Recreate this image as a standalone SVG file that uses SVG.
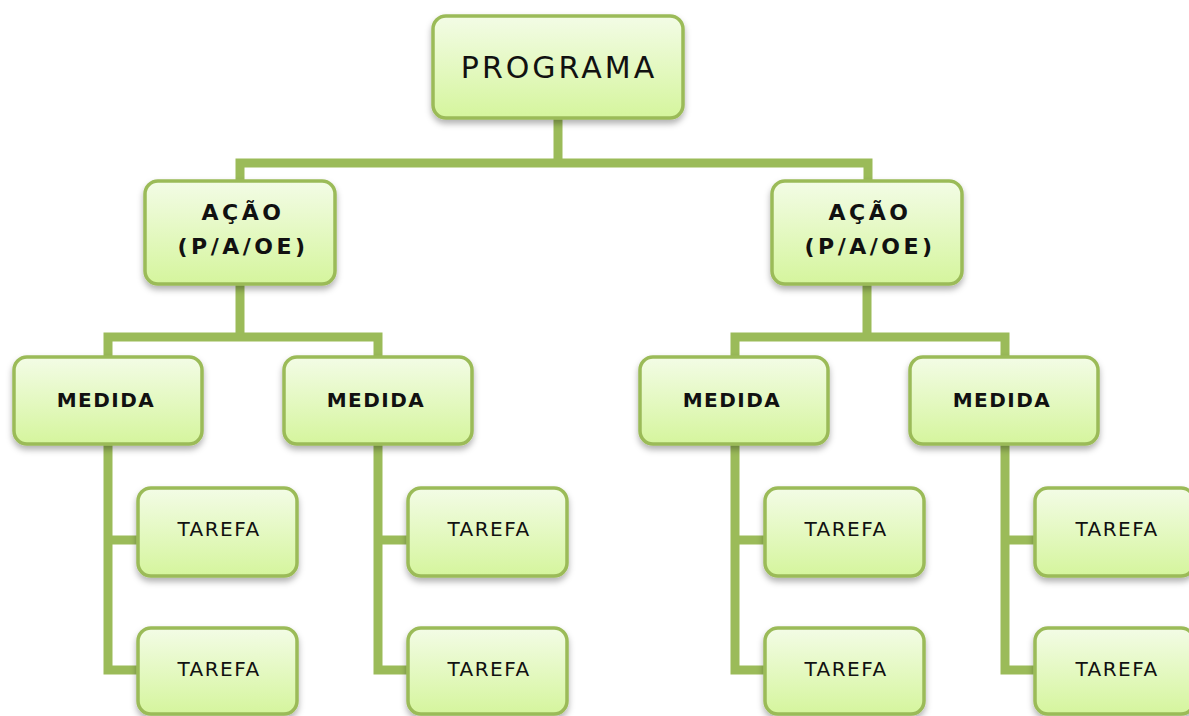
<svg xmlns="http://www.w3.org/2000/svg" width="1189" height="716" viewBox="0 0 1189 716">
<defs>
<linearGradient id="g" x1="0" y1="0" x2="0" y2="1">
<stop offset="0" stop-color="#f3fce6"/>
<stop offset="1" stop-color="#d5f59d"/>
</linearGradient>
<filter id="sh" x="-10%" y="-10%" width="120%" height="130%">
<feDropShadow dx="0" dy="4" stdDeviation="3" flood-color="#000" flood-opacity="0.3"/>
</filter>
</defs>
<style>
.box{fill:url(#g);stroke:#9bbb59;stroke-width:3.5;filter:url(#sh)}
.c{fill:none;stroke:#9bbb59;stroke-width:9;stroke-linejoin:miter;stroke-linecap:square}
.t{font-family:"DejaVu Sans",Verdana,sans-serif;fill:#111;text-anchor:middle}
.p{font-size:30px;letter-spacing:3px}
.a{font-weight:bold;font-size:22px;letter-spacing:3.5px}
.m{font-weight:bold;font-size:20px;letter-spacing:1.5px}
.r{font-size:20px;letter-spacing:1.5px}
</style>
<rect width="1189" height="716" fill="#fff"/>
<g id="connectors">
<path class="c" d="M558 118V163M240 181V163H868V181"/>
<path class="c" d="M240 284V337M108 357V337H378V357"/>
<path class="c" d="M867 284V337M735 357V337H1005V357"/>
<path class="c" d="M108 444V670H138M108 540H138"/>
<path class="c" d="M378 444V670H408M378 540H408"/>
<path class="c" d="M735 444V670H765M735 540H765"/>
<path class="c" d="M1005 444V670H1035M1005 540H1035"/>
</g>
<g id="programa"><rect class="box" x="433" y="16" width="250" height="102" rx="13"/><text class="t p" x="559" y="78">PROGRAMA</text></g>
<g id="acao1"><rect class="box" x="145" y="181" width="190" height="103" rx="13"/><text class="t a" x="243" y="220">AÇÃO</text><text class="t a" x="243" y="254">(P/A/OE)</text></g>
<g id="acao2"><rect class="box" x="772" y="181" width="190" height="103" rx="13"/><text class="t a" x="870" y="220">AÇÃO</text><text class="t a" x="870" y="254">(P/A/OE)</text></g>
<g id="medida1"><rect class="box" x="14" y="357" width="188" height="87" rx="13"/><text class="t m" x="106" y="407">MEDIDA</text></g>
<g id="medida2"><rect class="box" x="284" y="357" width="188" height="87" rx="13"/><text class="t m" x="376" y="407">MEDIDA</text></g>
<g id="medida3"><rect class="box" x="640" y="357" width="188" height="87" rx="13"/><text class="t m" x="732" y="407">MEDIDA</text></g>
<g id="medida4"><rect class="box" x="910" y="357" width="188" height="87" rx="13"/><text class="t m" x="1002" y="407">MEDIDA</text></g>
<g id="tarefa1"><rect class="box" x="138" y="488" width="159" height="88" rx="13"/><text class="t r" x="219" y="536">TAREFA</text></g>
<g id="tarefa2"><rect class="box" x="138" y="628" width="159" height="86" rx="13"/><text class="t r" x="219" y="676">TAREFA</text></g>
<g id="tarefa3"><rect class="box" x="408" y="488" width="159" height="88" rx="13"/><text class="t r" x="489" y="536">TAREFA</text></g>
<g id="tarefa4"><rect class="box" x="408" y="628" width="159" height="86" rx="13"/><text class="t r" x="489" y="676">TAREFA</text></g>
<g id="tarefa5"><rect class="box" x="765" y="488" width="159" height="88" rx="13"/><text class="t r" x="846" y="536">TAREFA</text></g>
<g id="tarefa6"><rect class="box" x="765" y="628" width="159" height="86" rx="13"/><text class="t r" x="846" y="676">TAREFA</text></g>
<g id="tarefa7"><rect class="box" x="1035" y="488" width="159" height="88" rx="13"/><text class="t r" x="1117" y="536">TAREFA</text></g>
<g id="tarefa8"><rect class="box" x="1035" y="628" width="159" height="86" rx="13"/><text class="t r" x="1117" y="676">TAREFA</text></g>
</svg>
